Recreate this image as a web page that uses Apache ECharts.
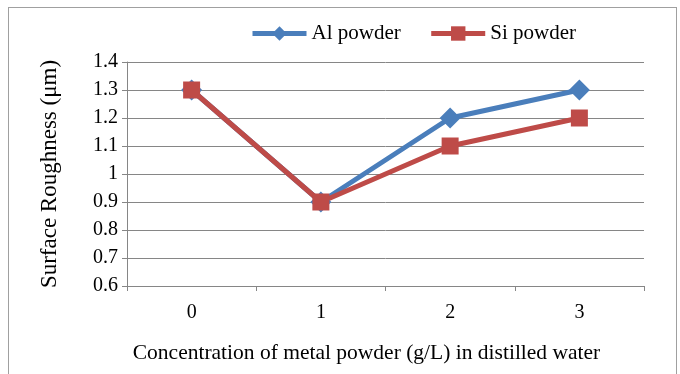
<!DOCTYPE html>
<html lang="en">
<head>
<meta charset="UTF-8">
<title>Surface Roughness</title>
<style>
html,body{margin:0;padding:0;background:#fff;}
#frame{position:absolute;left:8px;top:7px;width:669px;height:372px;border:1px solid #a0a0a0;box-sizing:border-box;}
#main{position:absolute;left:0;top:0;width:680px;height:374px;}
</style>
</head>
<body>
<div id="frame"></div>
<div id="main"></div>
<script src="https://cdn.jsdelivr.net/npm/echarts@6/dist/echarts.min.js"></script>
<script>
var categories = ['0', '1', '2', '3'];
var alPowder = [1.3, 0.9, 1.2, 1.3];
var siPowder = [1.3, 0.9, 1.1, 1.2];

var font = '"Liberation Serif", "Times New Roman", serif';
var myChart = echarts.init(document.getElementById('main'));
var option = {
    animation: false,
    textStyle: {fontFamily: font},
    legend: {
        top: 18,
        left: 245,
        itemWidth: 54,
        itemHeight: 18,
        itemGap: 28,
        lineStyle: {width: 5},
        textStyle: {fontFamily: font, fontSize: 21, color: '#000'},
        data: ['Al powder', 'Si powder']
    },
    grid: {left: 127, right: 36, top: 62, bottom: 88},
    xAxis: {
        type: 'category',
        data: categories,
        boundaryGap: true,
        name: 'Concentration of metal powder (g/L) in distilled water',
        nameLocation: 'middle',
        nameGap: 56,
        nameTextStyle: {fontFamily: font, fontSize: 21.5, color: '#000', padding: [0, 38, 0, 0]},
        axisLine: {lineStyle: {color: '#868686', width: 1}},
        axisTick: {show: true, length: 5, lineStyle: {color: '#868686'}},
        axisLabel: {fontFamily: font, fontSize: 20, color: '#000', margin: 17}
    },
    yAxis: {
        type: 'value',
        min: 0.6,
        max: 1.4,
        interval: 0.1,
        name: 'Surface Roughness (μm)',
        nameLocation: 'middle',
        nameGap: 66,
        nameTextStyle: {fontFamily: font, fontSize: 23, color: '#000'},
        axisLine: {show: true, lineStyle: {color: '#868686', width: 1}},
        axisTick: {show: true, length: 5, lineStyle: {color: '#868686'}},
        splitLine: {lineStyle: {color: '#868686', width: 1}},
        axisLabel: {
            fontFamily: font, fontSize: 20, color: '#000', margin: 9,
            formatter: function (v) { return String(Math.round(v * 10) / 10); }
        }
    },
    series: [
        {
            name: 'Al powder',
            type: 'line',
            data: alPowder,
            symbol: 'diamond',
            symbolSize: 21,
            lineStyle: {color: '#4A7EBB', width: 5},
            itemStyle: {color: '#4A7EBB'}
        },
        {
            name: 'Si powder',
            type: 'line',
            data: siPowder,
            symbol: 'rect',
            symbolSize: 17,
            lineStyle: {color: '#BE4B48', width: 5},
            itemStyle: {color: '#BE4B48'}
        }
    ]
};
myChart.setOption(option);
</script>
</body>
</html>
